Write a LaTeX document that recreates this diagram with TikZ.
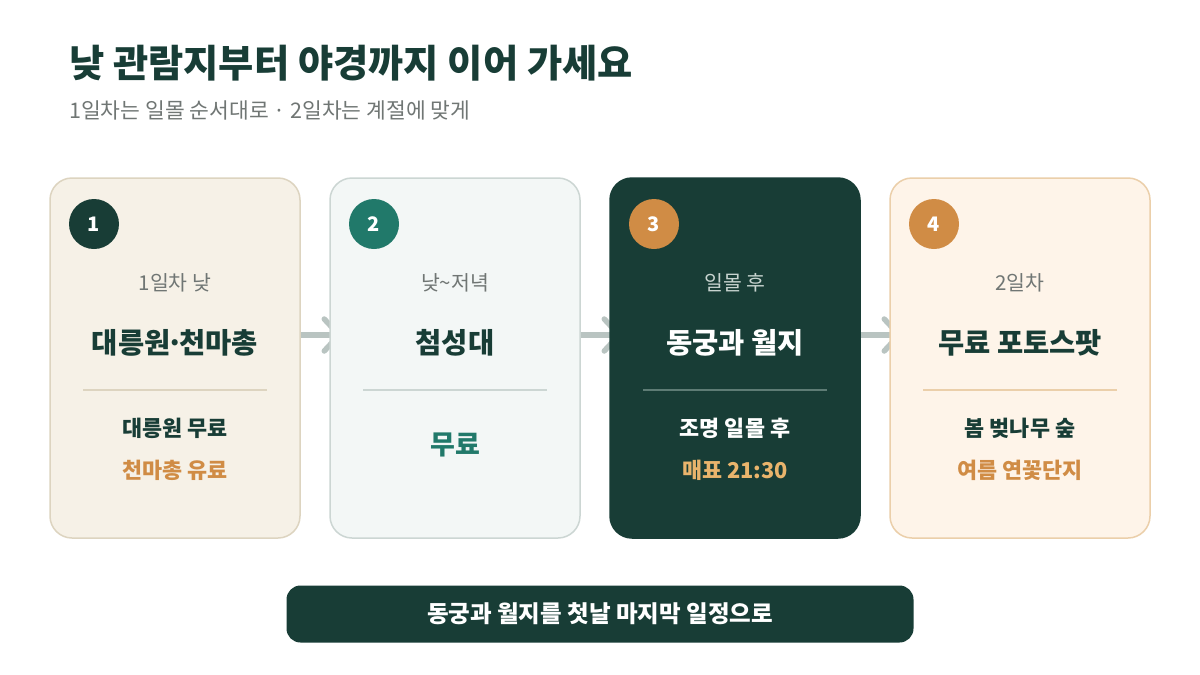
\documentclass[tikz,border=0pt]{standalone}
\usepackage{fontspec}
\setmainfont{Noto Sans CJK KR}
\usetikzlibrary{arrows.meta,positioning,calc,backgrounds}
\definecolor{pine}{RGB}{24,61,54}
\definecolor{pinerule}{RGB}{94,124,117}
\definecolor{pinesoft}{RGB}{200,212,208}
\definecolor{sand}{RGB}{246,241,231}
\definecolor{sandline}{RGB}{221,212,192}
\definecolor{mist}{RGB}{243,247,246}
\definecolor{mistline}{RGB}{204,214,211}
\definecolor{peach}{RGB}{254,244,233}
\definecolor{peachline}{RGB}{235,207,170}
\definecolor{amber}{RGB}{208,140,69}
\definecolor{gold}{RGB}{233,180,108}
\definecolor{jade}{RGB}{33,121,106}
\definecolor{slate}{RGB}{112,118,116}
\definecolor{flowgray}{RGB}{185,196,193}

\begin{document}
\begin{tikzpicture}[x=1pt,y=-1pt,
  node distance=30pt,
  card/.style={draw,line width=1.5pt,rounded corners=22pt,minimum width=250pt,
              minimum height=360pt,inner sep=0pt,outer sep=0pt},
  badge/.style={circle,minimum size=50pt,inner sep=0pt,text=white,
              font=\fontsize{20}{20}\selectfont\bfseries},
  when/.style={font=\fontsize{20.5}{24}\selectfont,text=slate},
  place/.style={font=\fontsize{28.5}{32}\selectfont\bfseries,text=pine},
  note/.style={font=\fontsize{21.8}{26}\selectfont\bfseries,text=pine},
  rule/.style={line width=1.3pt},
  flow/.style={draw=flowgray,line width=5.5pt,
              -{Straight Barb[round,length=15pt,width=32pt]}},
  >=Latex]
\useasboundingbox (0,0) rectangle (1200,675);

% heading
\node[anchor=west,inner sep=0pt,text=pine,font=\fontsize{38.3}{44}\selectfont\bfseries]
  (head) at (69,63) {낮 관람지부터 야경까지 이어 가세요};
\node[anchor=west,inner sep=0pt,text=slate,font=\fontsize{21.5}{26}\selectfont]
  (sub) at (69,110) {1일차는 일몰 순서대로 · 2일차는 계절에 맞게};

% cards
\node[card,fill=sand,draw=sandline,anchor=north west] (c1) at (50,178) {};
\node[card,fill=mist,draw=mistline,right=of c1] (c2) {};
\node[card,fill=pine,draw=pine,right=of c2] (c3) {};
\node[card,fill=peach,draw=peachline,minimum width=260pt,right=of c3] (c4) {};

% arrows between cards
\begin{scope}[on background layer]
\fill[white] (0,0) rectangle (1200,675);
\draw[flow] ($(c1.east)+(-4,-23)$) -- ($(c2.west)+(12,-23)$);
\draw[flow] ($(c2.east)+(-4,-23)$) -- ($(c3.west)+(12,-23)$);
\draw[flow] ($(c3.east)+(-4,-23)$) -- ($(c4.west)+(12,-23)$);
\end{scope}

% badges
\node[badge,fill=pine] (n1) at ($(c1.north west)+(44,46)$) {1};
\node[badge,fill=jade] (n2) at ($(c2.north west)+(44,46)$) {2};
\node[badge,fill=amber] (n3) at ($(c3.north west)+(44,46)$) {3};
\node[badge,fill=amber] (n4) at ($(c4.north west)+(44,46)$) {4};

% card 1
\node[when] (w1) at ($(c1.north)+(0,105)$) {1일차 낮};
\node[place] (p1) at ($(c1.north)+(0,165)$) {대릉원\kern-.15em·\kern-.15em천마총};
\draw[rule,draw=sandline] ($(c1.north west)+(33,212)$) -- ($(c1.north east)+(-33,212)$);
\node[note] (a1) at ($(c1.north)+(0,250)$) {대릉원 무료};
\node[note,text=amber] (b1) at ($(c1.north)+(0,292)$) {천마총 유료};

% card 2
\node[when] (w2) at ($(c2.north)+(0,105)$) {낮\textasciitilde 저녁};
\node[place] (p2) at ($(c2.north)+(0,165)$) {첨성대};
\draw[rule,draw=mistline] ($(c2.north west)+(33,212)$) -- ($(c2.north east)+(-33,212)$);
\node[note,text=jade,font=\fontsize{27}{30}\selectfont\bfseries] (a2) at ($(c2.north)+(0,267)$) {무료};

% card 3
\node[when,text=pinesoft] (w3) at ($(c3.north)+(0,105)$) {일몰 후};
\node[place,text=white] (p3) at ($(c3.north)+(0,165)$) {동궁과 월지};
\draw[rule,draw=pinerule] ($(c3.north west)+(33,212)$) -- ($(c3.north east)+(-33,212)$);
\node[note,text=white] (a3) at ($(c3.north)+(0,250)$) {조명 일몰 후};
\node[note,text=gold] (b3) at ($(c3.north)+(0,292)$) {매표 21:30};

% card 4
\node[when] (w4) at ($(c4.north)+(0,105)$) {2일차};
\node[place] (p4) at ($(c4.north)+(0,165)$) {무료 포토스팟};
\draw[rule,draw=peachline] ($(c4.north west)+(33,212)$) -- ($(c4.north east)+(-33,212)$);
\node[note] (a4) at ($(c4.north)+(0,250)$) {봄 벚나무 숲};
\node[note,text=amber] (b4) at ($(c4.north)+(0,292)$) {여름 연꽃단지};

% closing bar
\node[fill=pine,rounded corners=14pt,minimum width=627pt,minimum height=57pt,
      text=white,font=\fontsize{23.5}{26}\selectfont\bfseries] (tip) at (600,614)
  {동궁과 월지를 첫날 마지막 일정으로};
\end{tikzpicture}
\end{document}
